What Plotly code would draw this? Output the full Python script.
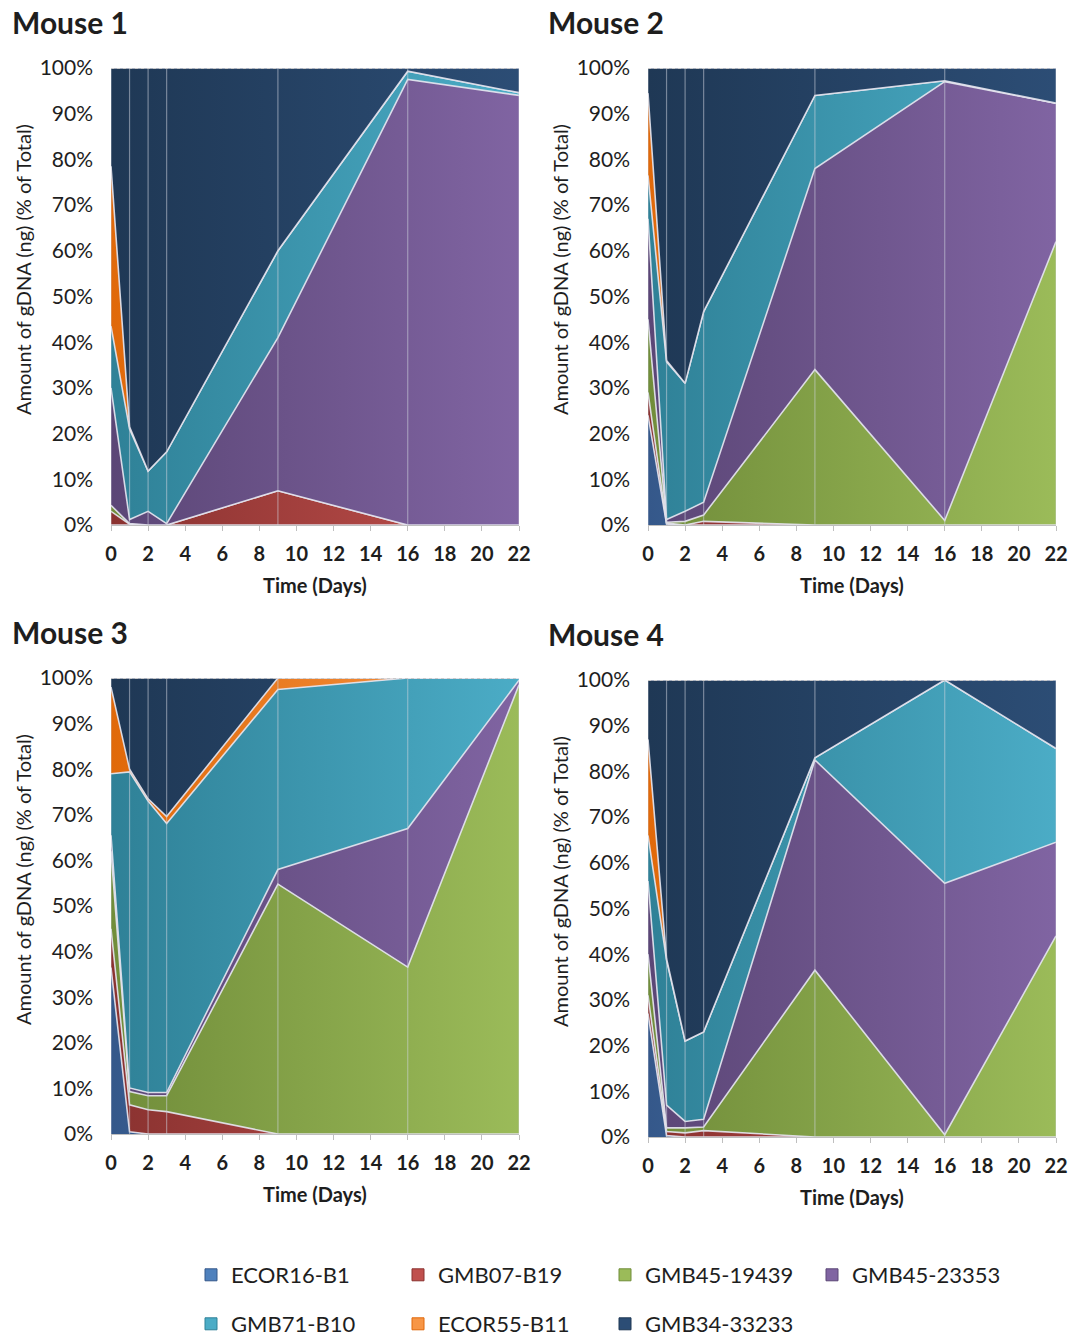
import plotly.graph_objects as go

# Sampling days and tick labels
days = [0, 1, 2, 3, 9, 16, 22]
x_ticks = list(range(0, 23, 2))
y_ticks = list(range(0, 101, 10))
y_labels = [f"{v}%" for v in y_ticks]

strains = ["ECOR16-B1", "GMB07-B19", "GMB45-19439", "GMB45-23353",
           "GMB71-B10", "ECOR55-B11", "GMB34-33233"]

# Share of total gDNA (%) per strain, one list per mouse, ordered as `strains`
mouse1 = [
    [0, 0, 0, 0, 0, 0, 0],
    [3, 0.2, 0, 0, 7.5, 0, 0],
    [1.3, 0.1, 0, 0, 0, 0, 0],
    [25.7, 0.9, 3, 0.3, 33.5, 97.5, 94],
    [13.5, 19.8, 8.8, 15.7, 19, 1.8, 0.6],
    [35, 0.5, 0, 0, 0, 0, 0],
    [21.5, 78.5, 88.2, 84, 40, 0.7, 5.4],
]
mouse2 = [
    [24, 0.2, 0, 0, 0, 0, 0],
    [5, 0.2, 0, 0.8, 0, 0, 0],
    [16, 0.2, 0.8, 1.4, 34, 1, 62],
    [22, 0.6, 2.2, 2.8, 44, 96, 30.3],
    [9.5, 34.5, 28, 41.7, 16, 0.2, 0],
    [18, 0.3, 0, 0, 0, 0, 0],
    [5.5, 64, 69, 53.3, 6, 2.8, 7.7],
]
mouse3 = [
    [36.5, 0.5, 0, 0, 0, 0, 0],
    [8.5, 5.9, 5.3, 4.9, 0, 0, 0],
    [17, 2.9, 3.1, 3.5, 54.8, 36.6, 98.5],
    [3.5, 0.8, 0.7, 0.7, 3.2, 30.4, 1],
    [13.5, 69.3, 63.9, 59, 39.5, 33, 0.5],
    [19, 0.6, 0.5, 1.5, 2.5, 0, 0],
    [2, 20, 26.5, 30.4, 0, 0, 0],
]
mouse4 = [
    [27, 0.3, 0, 0, 0, 0, 0],
    [4, 0.9, 0.9, 1.4, 0, 0, 0],
    [9, 0.8, 1.1, 0.8, 36.5, 0.5, 44],
    [16, 5, 1.4, 1.7, 46, 55, 20.5],
    [10, 31.7, 17.6, 19.1, 0.5, 44.5, 20.5],
    [21, 0.3, 0, 0, 0, 0, 0],
    [13, 61, 79, 77, 17, 0, 15],
]
mice = [mouse1, mouse2, mouse3, mouse4]
titles = ["Mouse 1", "Mouse 2", "Mouse 3", "Mouse 4"]

# Fill colours (darker at left, lighter at right, like an Office gradient)
shades = [
    ("#35588A", "#4F81BD"),
    ("#8A3230", "#C0504D"),
    ("#718D3A", "#9BBB59"),
    ("#5B4676", "#8064A2"),
    ("#2F8197", "#4BACC6"),
    ("#E0690A", "#F79646"),
    ("#1F3855", "#2C4D75"),
]

W, H = 1078, 1340
FONT = "Lato"
INK = "#1e1e1e"

# Plot areas in pixels: (left, right, top, bottom)
boxes = [
    (111, 519, 68, 525),
    (648, 1056, 68, 525),
    (111, 519, 678, 1134),
    (648, 1056, 680, 1137),
]

fig = go.Figure()
layout = {}
shapes = []
annotations = []

for k, (data, box) in enumerate(zip(mice, boxes)):
    n = k + 1
    xa = "x" if n == 1 else f"x{n}"
    ya = "y" if n == 1 else f"y{n}"
    for i, name in enumerate(strains):
        c0, c1 = shades[i]
        fig.add_trace(go.Scatter(
            x=days, y=data[i], name=name,
            xaxis=xa, yaxis=ya,
            mode="lines",
            stackgroup=f"m{n}", groupnorm="percent",
            line=dict(color="rgba(228,228,238,0.9)", width=1.6),
            fillcolor=c1,
            fillgradient=dict(type="horizontal",
                              colorscale=[[0, c0], [1, c1]]),
            showlegend=False,
            hoverinfo="x+y+name",
        ))

    l, r, t, b = box
    layout[f"xaxis{'' if n == 1 else n}"] = dict(
        domain=[l / W, r / W], anchor=ya, range=[0, 22],
        tickvals=x_ticks, ticks="outside", ticklen=5, tickcolor="#BFBFBF",
        ticklabelstandoff=6,
        showline=True, linecolor="#BFBFBF", linewidth=1,
        showgrid=False, zeroline=False,
        tickfont=dict(family=FONT, size=20, color=INK, weight="bold"),
    )
    layout[f"yaxis{'' if n == 1 else n}"] = dict(
        domain=[1 - b / H, 1 - t / H], anchor=xa, range=[0, 100],
        tickvals=y_ticks, ticktext=y_labels, ticks="",
        ticklabelstandoff=17,
        showline=False, showgrid=False, zeroline=False,
        tickfont=dict(family=FONT, size=21, color=INK),
    )

    # drop lines at every sampling day
    for d in days:
        shapes.append(dict(type="line", xref=xa, yref=f"{ya} domain",
                           x0=d, x1=d, y0=0, y1=1,
                           line=dict(color="rgba(210,214,224,0.5)", width=1.2),
                           layer="above"))
    # top boundary at 100%
    shapes.append(dict(type="line", xref=f"{xa} domain", yref=ya,
                       x0=0, x1=1, y0=100, y1=100,
                       line=dict(color="#C9C9C9", width=2, dash="dot"),
                       layer="above"))

    # panel title
    annotations.append(dict(
        text=f"<b>{titles[k]}</b>", xref="paper", yref="paper",
        x=(10 if l < 300 else 546) / W, y=1 - (t - 46) / H,
        xanchor="left", yanchor="middle", showarrow=False,
        font=dict(family=FONT, size=30, color=INK)))
    # y axis title
    annotations.append(dict(
        text="Amount of gDNA (ng) (% of Total)", xref="paper", yref="paper",
        x=(l - 88) / W, y=1 - (t + 202) / H, textangle=-90,
        xanchor="center", yanchor="middle", showarrow=False,
        font=dict(family=FONT, size=20, color=INK)))
    # x axis title
    annotations.append(dict(
        text="<b>Time (Days)</b>", xref="paper", yref="paper",
        x=(l + r) / 2 / W, y=1 - (b + 60) / H,
        xanchor="center", yanchor="middle", showarrow=False,
        font=dict(family=FONT, size=20, color=INK)))

# Legend entries drawn as square swatches, split over two rows
for i, name in enumerate(strains):
    fig.add_trace(go.Bar(
        x=[None], y=[None], name=name,
        marker=dict(color=shades[i][1],
                    line=dict(color=shades[i][0], width=1)),
        legend="legend" if i < 4 else "legend2",
        showlegend=True, hoverinfo="skip",
    ))

legend_common = dict(
    orientation="h", entrywidth=162, entrywidthmode="pixels",
    traceorder="normal",
    xanchor="left", yanchor="middle", bgcolor="rgba(0,0,0,0)",
    font=dict(family=FONT, size=22, color=INK),
)

fig.update_layout(
    width=W, height=H,
    margin=dict(l=0, r=0, t=0, b=0, autoexpand=False),
    paper_bgcolor="white", plot_bgcolor="white",
    font=dict(family=FONT, color=INK),
    showlegend=True,
    legend=dict(x=191 / W, y=1 - 1275 / H, **legend_common),
    legend2=dict(x=191 / W, y=1 - 1324 / H, **legend_common),
    shapes=shapes, annotations=annotations,
    **layout,
)

fig.write_html("out.html")
